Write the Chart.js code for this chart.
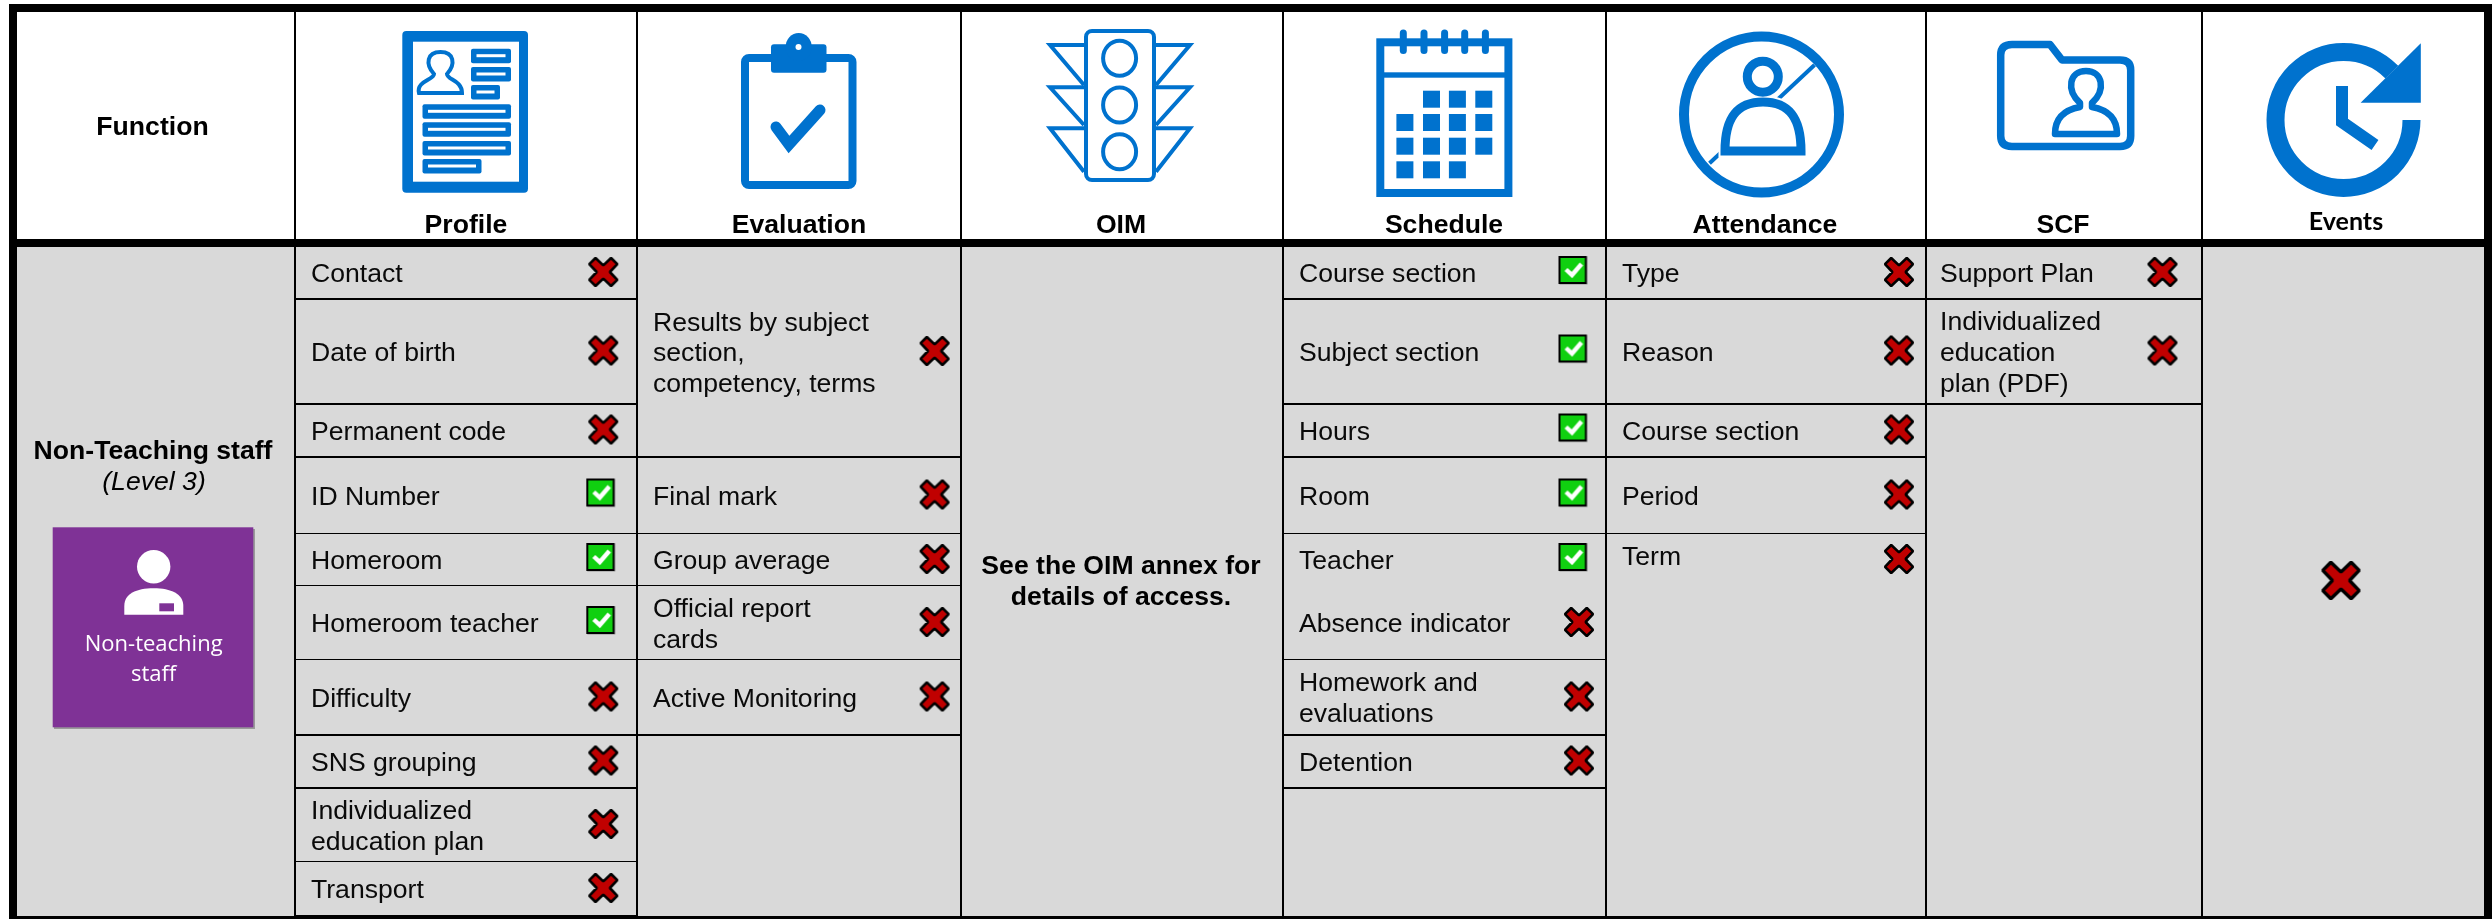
<!DOCTYPE html>
<html>
<head>
<meta charset="utf-8">
<title>Access by function</title>
<script src="https://cdn.jsdelivr.net/npm/chart.js@4"></script>
<style>
    html, body { margin: 0; padding: 0; background: #fff; }
    canvas { display: block; }
</style>
</head>
<body>
<canvas id="accessChart" width="2492" height="919"></canvas>
<script>
// Table content (1 = access, 0 = no access)
const functionNames = ['Profile', 'Evaluation', 'OIM', 'Schedule', 'Attendance', 'SCF', 'Events'];

const profileItems = ['Contact', 'Date of birth', 'Permanent code', 'ID Number', 'Homeroom', 'Homeroom teacher',
    'Difficulty', 'SNS grouping', 'Individualized\neducation plan', 'Transport'];
const profileAccess = [0, 0, 0, 1, 1, 1, 0, 0, 0, 0];

const evaluationItems = ['Results by subject\nsection,\ncompetency, terms', 'Final mark', 'Group average',
    'Official report\ncards', 'Active Monitoring'];
const evaluationAccess = [0, 0, 0, 0, 0];

const oimNote = ['See the OIM annex for', 'details of access.'];

const scheduleItems = ['Course section', 'Subject section', 'Hours', 'Room', 'Teacher', 'Absence indicator',
    'Homework and\nevaluations', 'Detention'];
const scheduleAccess = [1, 1, 1, 1, 1, 0, 0, 0];

const attendanceItems = ['Type', 'Reason', 'Course section', 'Period', 'Term'];
const attendanceAccess = [0, 0, 0, 0, 0];

const scfItems = ['Support Plan', 'Individualized\neducation\nplan (PDF)'];
const scfAccess = [0, 0];

const eventsAccess = [0];

const roleName = 'Non-Teaching staff';
const roleLevel = '(Level 3)';
const badgeLines = ['Non-teaching', 'staff'];

// Layout of the table, in canvas units
const columnEdges = [295, 637, 961, 1283, 1606, 1926, 2202];
const rowEdges = [247, 299, 404, 457, 534, 586, 660, 735, 788, 862, 916];
const thinEdges = [534, 586, 660, 862];
const evaluationSpans = [[0, 3], [3, 4], [4, 5], [5, 6], [6, 7]];

const textX = { Profile: 311, Evaluation: 653, Schedule: 1299, Attendance: 1622, SCF: 1940 };
const crossX = { Profile: 603.3, Evaluation: 934.6, Schedule: 1579, Attendance: 1899, SCF: 2162.5, Events: 2341 };
const checkX = { Profile: 600.3, Schedule: 1572.5 };
const headerX = [466, 799, 1121, 1444, 1765, 2063, 2346];

const BLUE = '#0072ce';
const GREY = '#d9d9d9';
const FONT = '"Liberation Sans", Arial, sans-serif';
const TEXT_SIZE = 26.6;
const TEXT_DROP = 2;   // canvas 'middle' baseline sits a little high for this font

function rowsOf(count) {
    return Array.from({ length: count }, (_, i) => [i, i + 1]);
}

// Every column as a list of rows: label, access flag, top and bottom edge
function buildColumn(name, items, access, spans) {
    return items.map((label, i) => ({
        name,
        label,
        access: access[i],
        top: rowEdges[spans[i][0]],
        bottom: rowEdges[spans[i][1]]
    }));
}

const tableRows = [
    ...buildColumn('Profile', profileItems, profileAccess, rowsOf(10)),
    ...buildColumn('Evaluation', evaluationItems, evaluationAccess, evaluationSpans),
    ...buildColumn('Schedule', scheduleItems, scheduleAccess, rowsOf(8)),
    ...buildColumn('Attendance', attendanceItems, attendanceAccess, rowsOf(5)),
    ...buildColumn('SCF', scfItems, scfAccess, rowsOf(2)),
    ...buildColumn('Events', [''], eventsAccess, [[0, 10]])
];

function makeCross(scale) {
    const size = Math.ceil(36 * scale);
    const canvas = document.createElement('canvas');
    canvas.width = size;
    canvas.height = size;
    const c = canvas.getContext('2d');
    const pts = [[0, -6.6], [7.8, -14], [14, -7.8], [6.6, 0], [14, 7.8], [7.8, 14],
        [0, 6.6], [-7.8, 14], [-14, 7.8], [-6.6, 0], [-14, -7.8], [-7.8, -14]];
    c.translate(size / 2, size / 2);
    c.scale(scale, scale);
    c.beginPath();
    pts.forEach((p, i) => (i ? c.lineTo(p[0], p[1]) : c.moveTo(p[0], p[1])));
    c.closePath();
    c.fillStyle = '#c00000';
    c.strokeStyle = '#000';
    c.lineWidth = 2.6;
    c.lineJoin = 'bevel';
    c.fill();
    c.stroke();
    return canvas;
}

function makeCheck() {
    const canvas = document.createElement('canvas');
    canvas.width = 32;
    canvas.height = 32;
    const c = canvas.getContext('2d');
    c.fillStyle = '#b5b5b5';
    c.fillRect(3, 3, 28, 28);
    c.fillStyle = '#000';
    c.fillRect(2, 2, 28.4, 28);
    c.fillStyle = '#10d010';
    c.fillRect(4, 4, 24.4, 24);
    c.strokeStyle = '#fff';
    c.lineWidth = 4.4;
    c.beginPath();
    c.moveTo(9.5, 15.5);
    c.lineTo(15.5, 21);
    c.lineTo(25, 10);
    c.stroke();
    return canvas;
}

const crossMark = makeCross(1);
const bigCrossMark = makeCross(1.3);
const checkMark = makeCheck();

function markPoints(access, shape) {
    return tableRows
        .filter(r => r.access === access && (shape !== 'big') === (r.name !== 'Events'))
        .map(r => ({
            x: access ? checkX[r.name] : crossX[r.name],
            y: (r.top + r.bottom) / 2 + (access ? -3 : -1)
        }));
}

// Rules between the cells, as one polyline broken by gaps
function ruleSegments(thin) {
    const segments = [];
    const add = (x1, y1, x2, y2) => segments.push({ x: x1, y: y1 }, { x: x2, y: y2 }, { x: NaN, y: NaN });
    const names = ['Profile', 'Evaluation', null, 'Schedule', 'Attendance', 'SCF'];
    names.forEach((name, c) => {
        if (!name) return;
        tableRows.filter(r => r.name === name).forEach(r => {
            if (r.label === 'Term' || r.label === 'Teacher') return;
            if (thinEdges.includes(r.bottom) === thin) {
                const y = thin ? r.bottom - 0.5 : r.bottom;
                add(columnEdges[c], y, columnEdges[c + 1], y);
            }
        });
    });
    return segments;
}

function columnSegments() {
    const segments = [];
    columnEdges.forEach(x => {
        segments.push({ x, y: 12 }, { x, y: 919 }, { x: NaN, y: NaN });
    });
    return segments;
}

function frameSegments() {
    return [{ x: 9, y: 8 }, { x: 2492, y: 8 }, { x: NaN, y: NaN },
        { x: 9, y: 243 }, { x: 2492, y: 243 }, { x: NaN, y: NaN },
        { x: 13, y: 4 }, { x: 13, y: 919 }, { x: NaN, y: NaN },
        { x: 2488, y: 4 }, { x: 2488, y: 919 }, { x: NaN, y: NaN },
        { x: 9, y: 920 }, { x: 2492, y: 920 }];
}

function lineDataset(data, width) {
    return {
        type: 'line',
        data,
        borderColor: '#000',
        borderWidth: width,
        pointRadius: 0,
        spanGaps: false,
        tension: 0,
        borderCapStyle: 'butt'
    };
}

function rr(c, x, y, w, h, r) {
    c.beginPath();
    c.roundRect(x, y, w, h, r);
}

function drawProfileIcon(c) {
    c.fillStyle = BLUE;
    rr(c, 402.3, 31, 125.7, 161.7, 4);
    c.fill();
    c.fillStyle = '#fff';
    c.fillRect(413, 41.7, 106, 140);
    const bars = [[471, 48.7, 40], [471, 67, 40], [471, 85, 29], [422.5, 104.3, 88.5], [422.5, 122.3, 88.5], [422.5, 141, 88.5], [422.5, 159, 59]];
    bars.forEach(b => {
        c.fillStyle = BLUE;
        rr(c, b[0], b[1], b[2], 14.5, 2);
        c.fill();
        c.fillStyle = '#fff';
        c.fillRect(b[0] + 5.5, b[1] + 5.5, b[2] - 11, 3);
    });
    c.strokeStyle = BLUE;
    c.lineWidth = 4;
    c.beginPath();
    c.moveTo(434, 74);
    c.bezierCurveTo(425, 64, 427, 52, 440.5, 52);
    c.bezierCurveTo(454, 52, 456, 64, 447, 74);
    c.bezierCurveTo(447, 80, 462, 80, 462, 93);
    c.lineTo(419, 93);
    c.bezierCurveTo(416, 81, 434, 80, 434, 74);
    c.closePath();
    c.stroke();
}

function drawEvaluationIcon(c) {
    c.strokeStyle = BLUE;
    c.lineWidth = 8;
    rr(c, 745, 58, 107.5, 127, 4);
    c.stroke();
    c.fillStyle = BLUE;
    rr(c, 771, 44.3, 55.5, 28.4, 3);
    c.fill();
    c.beginPath();
    c.ellipse(798.7, 47, 13, 14, 0, 0, Math.PI * 2);
    c.fill();
    c.fillStyle = '#fff';
    c.beginPath();
    c.arc(798.5, 47, 3, 0, Math.PI * 2);
    c.fill();
    c.lineWidth = 11;
    c.lineCap = 'round';
    c.beginPath();
    c.moveTo(776, 127);
    c.lineTo(789, 144.5);
    c.lineTo(820, 110);
    c.stroke();
    c.lineCap = 'butt';
}

function drawOimIcon(c) {
    c.strokeStyle = BLUE;
    c.lineWidth = 4;
    rr(c, 1086, 31, 68, 149, 6);
    c.stroke();
    [58.3, 105, 151.7].forEach(cy => {
        c.beginPath();
        c.ellipse(1119.6, cy, 16.5, 17.5, 0, 0, Math.PI * 2);
        c.stroke();
    });
    [[45, 85], [87.3, 125], [128.3, 171.7]].forEach(w => {
        c.beginPath();
        c.moveTo(1084, w[0]);
        c.lineTo(1050, w[0]);
        c.lineTo(1084, w[1]);
        c.moveTo(1156, w[0]);
        c.lineTo(1190, w[0]);
        c.lineTo(1156, w[1]);
        c.stroke();
    });
}

function drawScheduleIcon(c) {
    c.fillStyle = BLUE;
    c.fillRect(1376.3, 38.3, 136.1, 158.7);
    c.fillStyle = '#fff';
    c.fillRect(1384.3, 46.3, 120.1, 26);
    c.fillRect(1384.3, 77.7, 120.1, 111.3);
    c.strokeStyle = BLUE;
    c.lineWidth = 7;
    c.lineCap = 'round';
    [1403.3, 1424, 1444.6, 1464.7, 1485.4].forEach(x => {
        c.beginPath();
        c.moveTo(x, 33);
        c.lineTo(x, 50.5);
        c.stroke();
    });
    c.lineCap = 'butt';
    const xs = [1396.4, 1423, 1448.9, 1475.3];
    const ys = [90.7, 114, 137.7, 161.3];
    const filled = [[1, 2, 3], [0, 1, 2, 3], [0, 1, 2, 3], [0, 1, 2]];
    c.fillStyle = BLUE;
    filled.forEach((row, r) => row.forEach(i => c.fillRect(xs[i], ys[r], 17, 17)));
}

function drawAttendanceIcon(c) {
    c.strokeStyle = BLUE;
    c.lineWidth = 10;
    c.beginPath();
    c.ellipse(1761.5, 114.5, 77.5, 78, 0, 0, Math.PI * 2);
    c.stroke();
    c.lineWidth = 4;
    c.beginPath();
    c.moveTo(1814.5, 65);
    c.lineTo(1709.5, 163.3);
    c.stroke();
    const body = new Path2D('M1725 151 C1725 120 1735 102 1763 102 C1791 102 1801 120 1801 151 Z');
    c.fillStyle = '#fff';
    c.strokeStyle = '#fff';
    c.lineWidth = 13;
    c.stroke(body);
    c.fill(body);
    c.beginPath();
    c.ellipse(1762.8, 76.7, 21, 21, 0, 0, Math.PI * 2);
    c.fill();
    c.strokeStyle = BLUE;
    c.lineWidth = 9;
    c.stroke(body);
    c.beginPath();
    c.ellipse(1762.8, 76.7, 15.5, 15.5, 0, 0, Math.PI * 2);
    c.stroke();
}

function drawScfIcon(c) {
    c.strokeStyle = BLUE;
    c.lineWidth = 7.5;
    c.lineJoin = 'round';
    c.beginPath();
    c.moveTo(2012, 44.5);
    c.lineTo(2050, 44.5);
    c.lineTo(2062, 60);
    c.lineTo(2120, 60);
    c.quadraticCurveTo(2130.7, 60, 2130.7, 70);
    c.lineTo(2130.7, 136);
    c.quadraticCurveTo(2130.7, 146.5, 2120, 146.5);
    c.lineTo(2012, 146.5);
    c.quadraticCurveTo(2000.7, 146.5, 2000.7, 136);
    c.lineTo(2000.7, 55);
    c.quadraticCurveTo(2000.7, 44.5, 2012, 44.5);
    c.stroke();
    c.lineWidth = 6.5;
    c.beginPath();
    c.moveTo(2080, 103);
    c.bezierCurveTo(2066, 90, 2069, 71, 2086, 71);
    c.bezierCurveTo(2103, 71, 2106, 90, 2092, 103);
    c.lineTo(2092, 107);
    c.bezierCurveTo(2108, 110, 2117, 118, 2117, 134);
    c.lineTo(2055, 134);
    c.bezierCurveTo(2055, 118, 2064, 110, 2080, 107);
    c.closePath();
    c.stroke();
    c.lineJoin = 'miter';
}

function drawEventsIcon(c) {
    c.strokeStyle = BLUE;
    c.lineWidth = 18;
    c.beginPath();
    c.ellipse(2343.5, 120, 68, 68, 0, 0, Math.PI * 2 - 0.78);
    c.stroke();
    c.fillStyle = BLUE;
    c.beginPath();
    c.moveTo(2420.8, 43.3);
    c.lineTo(2420.8, 102.7);
    c.lineTo(2360.6, 102.7);
    c.closePath();
    c.fill();
    c.lineWidth = 12;
    c.beginPath();
    c.moveTo(2342, 86);
    c.lineTo(2342, 122);
    c.lineTo(2375, 145);
    c.stroke();
}

function drawBadge(c) {
    c.fillStyle = '#9a9a9a';
    c.fillRect(54, 529, 201, 200);
    c.fillStyle = '#7f3296';
    c.fillRect(52.7, 527.3, 200.6, 200);
    c.fillStyle = '#fff';
    c.beginPath();
    c.arc(153.7, 566.7, 16.7, 0, Math.PI * 2);
    c.fill();
    c.beginPath();
    c.moveTo(124.3, 614.7);
    c.lineTo(124.3, 606);
    c.bezierCurveTo(124.3, 594, 136, 588.3, 153.7, 588.3);
    c.bezierCurveTo(171, 588.3, 183.3, 594, 183.3, 606);
    c.lineTo(183.3, 614.7);
    c.closePath();
    c.fill();
    c.fillStyle = '#7f3296';
    c.fillRect(159.3, 603.3, 14.7, 8);
    c.fillStyle = '#fff';
    c.font = '22px "Open Sans", sans-serif';
    c.textAlign = 'center';
    c.textBaseline = 'middle';
    c.fillText(badgeLines[0], 153.7, 645);
    c.fillText(badgeLines[1], 153.7, 675);
}

const tablePlugin = {
    id: 'accessTable',
    beforeDatasetsDraw(chart) {
        const { ctx: c, scales: { x, y } } = chart;
        c.save();
        c.fillStyle = GREY;
        c.fillRect(x.getPixelForValue(17), y.getPixelForValue(243), 2467, 676);
        c.restore();
    },
    afterDatasetsDraw(chart) {
        const { ctx: c, scales: { x, y } } = chart;
        const label = (text, tx, ty) => c.fillText(text, x.getPixelForValue(tx), y.getPixelForValue(ty + TEXT_DROP));
        c.save();
        c.fillStyle = '#000';
        c.textBaseline = 'middle';

        // header row
        c.font = `bold ${TEXT_SIZE}px ${FONT}`;
        c.textAlign = 'center';
        label('Function', 152.5, 126);
        functionNames.forEach((name, i) => {
            if (name === 'Events') {
                c.font = 'bold 25px Lato, sans-serif';
                label(name, headerX[i], 220);
            } else {
                label(name, headerX[i], 224);
            }
        });
        [drawProfileIcon, drawEvaluationIcon, drawOimIcon, drawScheduleIcon, drawAttendanceIcon, drawScfIcon, drawEventsIcon]
            .forEach(draw => {
                c.save();
                draw(c);
                c.restore();
            });

        // role column
        c.fillStyle = '#000';
        c.font = `bold ${TEXT_SIZE}px ${FONT}`;
        label(roleName, 153, 450);
        c.font = `italic ${TEXT_SIZE}px ${FONT}`;
        label(roleLevel, 154, 481);
        c.save();
        drawBadge(c);
        c.restore();

        // OIM note
        c.fillStyle = '#000';
        c.font = `bold ${TEXT_SIZE}px ${FONT}`;
        label(oimNote[0], 1121, 565);
        label(oimNote[1], 1121, 596);

        // item labels
        c.font = `${TEXT_SIZE}px ${FONT}`;
        c.textAlign = 'left';
        c.fillStyle = '#0a0a0a';
        tableRows.forEach(r => {
            if (!r.label) return;
            const lines = r.label.split('\n');
            const mid = (r.top + r.bottom) / 2 + (r.label === 'Term' ? -4 : 0);
            lines.forEach((line, i) => {
                label(line, textX[r.name], mid + (i - (lines.length - 1) / 2) * 30.7);
            });
        });
        c.restore();
    }
};

const accessChart = new Chart(document.getElementById('accessChart'), {
    type: 'scatter',
    data: {
        datasets: [
            lineDataset(ruleSegments(false), 2),
            lineDataset(ruleSegments(true), 1),
            lineDataset(columnSegments(), 2),
            lineDataset(frameSegments(), 8),
            { label: 'No access', data: markPoints(0, 'small'), pointStyle: crossMark, pointRadius: 15 },
            { label: 'Access', data: markPoints(1, 'small'), pointStyle: checkMark, pointRadius: 15 },
            { label: 'No access (whole function)', data: markPoints(0, 'big'), pointStyle: bigCrossMark, pointRadius: 20 }
        ]
    },
    options: {
        responsive: false,
        animation: false,
        layout: { padding: 0, autoPadding: false },
        plugins: { legend: { display: false }, tooltip: { enabled: false } },
        scales: {
            x: { type: 'linear', min: 0, max: 2492, display: false },
            y: { type: 'linear', min: 0, max: 919, reverse: true, display: false }
        }
    },
    plugins: [tablePlugin]
});
</script>
</body>
</html>
